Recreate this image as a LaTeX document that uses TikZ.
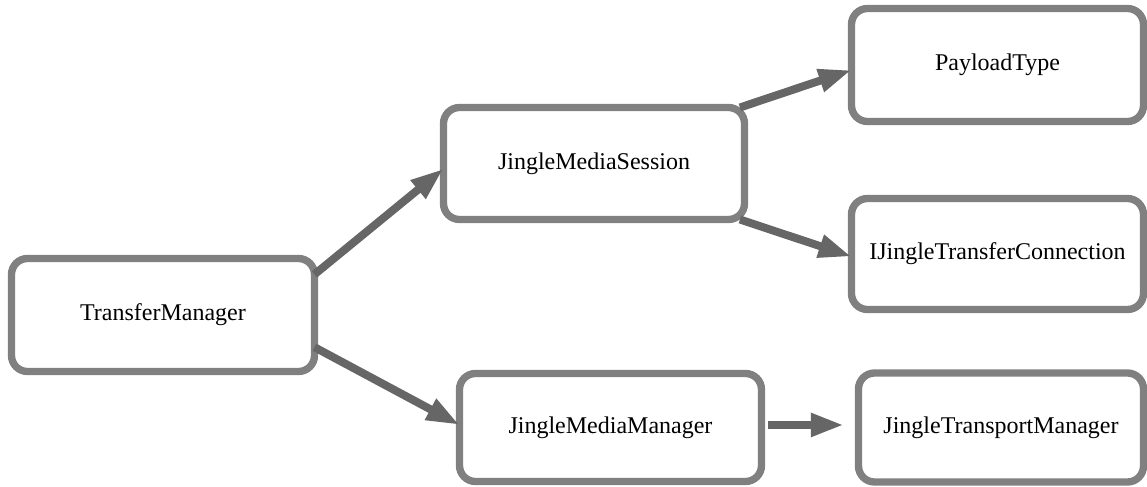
\documentclass[tikz,border=0pt]{standalone}
\usepackage{fontspec}
\setmainfont{Liberation Serif}
\newfontfamily\boxfont{Liberation Serif}
\usetikzlibrary{arrows.meta}
\definecolor{boxgray}{HTML}{808080}
\definecolor{arrgray}{HTML}{666666}
\begin{document}
\begin{tikzpicture}[x=0.75pt,y=-0.75pt,
  box/.style={draw=boxgray, line width=5.5pt, rounded corners=12pt, fill=white,
    inner sep=0pt, outer sep=0pt, font=\boxfont\fontsize{18}{21}\selectfont},
  arr/.style={draw=arrgray, line width=6pt, -{Triangle[length=24.75pt,width=16.5pt]}}]
\useasboundingbox[fill=white] (0,0) rectangle (1147,486);

\node[box, minimum width=227.25pt, minimum height=84.75pt] (tm) at (163,315) {TransferManager};
\node[box, minimum width=225.75pt, minimum height=84pt] (jms) at (594,163.5) {JingleMediaSession};
\node[box, minimum width=219pt, minimum height=84.75pt] (pt) at (997.5,65) {PayloadType};
\node[box, minimum width=219pt, minimum height=83.25pt] (ijtc) at (997.5,254) {IJingleTransferConnection};
\node[box, minimum width=226.5pt, minimum height=81pt] (jmm) at (610.5,427.5) {JingleMediaManager};
\node[box, minimum width=213.75pt, minimum height=81.75pt] (jtm) at (1001,427.5) {JingleTransportManager};

\draw[arr] (tm.15.8) -- (jms.182.4);
\draw[arr] (tm.-12.2) -- (jmm.179);
\draw[arr] (jms.21.5) -- (pt.182);
\draw[arr] (jms.-21.5) -- (ijtc.181);
\draw[arr, shorten <=4.5pt, shorten >=11pt] ([yshift=1.9pt]jmm.east) -- ([yshift=1.9pt]jtm.west);
\end{tikzpicture}
\end{document}
